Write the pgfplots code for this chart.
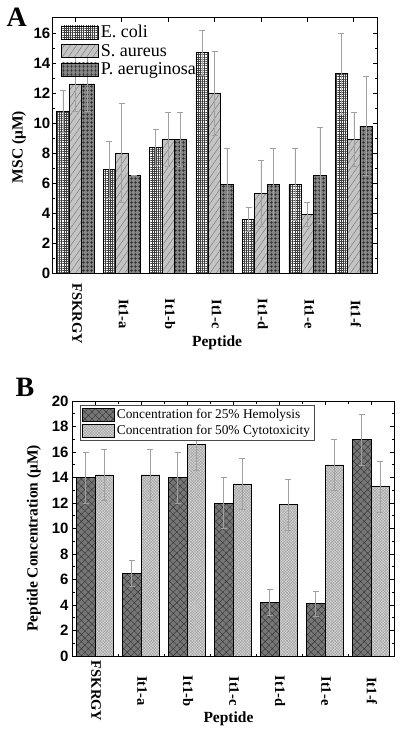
\documentclass[border=0pt]{standalone}
\usepackage{pgfplots}
\pgfplotsset{compat=1.18}
\usepackage{fontspec}
\setmainfont{Liberation Serif}
\setsansfont{Liberation Sans}
\usetikzlibrary{patterns.meta}
\definecolor{lgray}{HTML}{C4C4C4}
\definecolor{dgray}{HTML}{858585}
\definecolor{hgray}{HTML}{767676}
\definecolor{cgray}{HTML}{D8D8D8}
\definecolor{errgray}{HTML}{A0A0A0}

\pgfplotstableread{
x ec ecerr sa saerr pa paerr
0 10.8 1.4 12.6 1.8 12.6 1.8
1 6.9 1.9 8.0 3.3 6.5 0.0
2 8.4 1.2 8.9 1.8 8.9 1.8
3 14.7 1.5 12.0 2.8 5.9 2.4
4 3.6 0.8 5.3 2.2 5.9 2.4
5 5.9 2.4 3.9 0.8 6.5 3.2
6 13.3 2.7 8.9 1.8 9.8 3.3
}\tableA

\pgfplotstableread{
x hem hemerr cyt cyterr
0 14.0 2.0 14.2 2.0
1 6.5 1.0 14.2 2.0
2 14.0 2.0 16.6 2.0
3 12.0 2.0 13.5 2.0
4 4.2 1.0 11.9 2.0
5 4.1 1.0 15.0 2.0
6 17.0 2.0 13.3 2.0
}\tableB

\pgfplotsset{
  barlegA/.style={legend image code/.code={\draw[##1] (0pt,-6.5pt) rectangle (37pt,6.5pt);}},
  barlegB/.style={legend image code/.code={\draw[##1] (0pt,-6.5pt) rectangle (32pt,6.5pt);}},
  common/.style={
    scale only axis,
    ybar=0pt,
    xmin=-0.5, xmax=6.5,
    xtick={0,...,6},
    xticklabels={FSKRGY,It1-a,It1-b,It1-c,It1-d,It1-e,It1-f},
    tick align=inside,
    major tick length=4pt,
    minor tick length=2.5pt,
    axis line style={line width=1pt},
    every tick/.style={black, line width=0.8pt},
    minor y tick num=1,
    ymin=0,
    yticklabel style={font=\sffamily\bfseries\fontsize{15}{15}\selectfont},
    /pgf/number format/assume math mode=true,
    label style={font=\bfseries\fontsize{15.5}{15.5}\selectfont},
    legend cell align=left,
    error bars/y dir=both,
    error bars/y explicit,
    error bars/error bar style={errgray, line width=0.5pt},
    error bars/error mark options={rotate=90, errgray, mark size=3pt, line width=0.5pt},
  }
}

\begin{document}
\begin{tikzpicture}
\useasboundingbox (0pt,0pt) rectangle (400pt,-730pt);

% Panel A
\begin{axis}[common,
  at={(52pt,-273pt)}, anchor=south west,
  width=325pt, height=255pt,
  ymax=17, ytick={0,2,...,16},
  bar width=12.4pt,
  xticklabel style={font=\bfseries\fontsize{14.5}{14.5}\selectfont, xshift=2pt, yshift=-41pt, rotate=-90, anchor=center},
  yticklabel style={inner sep=1.5pt},
  ylabel={MSC (μM)},
  ylabel style={at={(axis description cs:-0.1015,0.494)}, anchor=center},
  xlabel={Peptide},
  xlabel style={at={(axis description cs:0.508,-0.275)}, anchor=center},
  legend style={at={(0.025,0.984)}, anchor=north west, draw=none, fill=none,
    font=\fontsize{18}{18}\selectfont, row sep=1pt, inner sep=1pt,
    /tikz/every even column/.append style={column sep=3pt}},
]
\addplot[draw=black, line width=0.5pt, fill=white,
  postaction={pattern={Hatch[angle=0,distance=2.2pt,line width=0.25pt]}, pattern color=black!75}, barlegA]
  table[x=x, y=ec, y error=ecerr] {\tableA};
\addlegendentry{E. coli}
\addplot[draw=black, line width=0.5pt, fill=lgray,
  postaction={pattern={Lines[angle=55,distance=5pt,line width=0.4pt]}, pattern color=gray!90!black}, barlegA]
  table[x=x, y=sa, y error=saerr] {\tableA};
\addlegendentry{S. aureus}
\addplot[draw=black, line width=0.5pt, fill=dgray,
  postaction={pattern={Hatch[angle=0,distance=4pt,line width=0.45pt]}, pattern color=black!85}, barlegA]
  table[x=x, y=pa, y error=paerr] {\tableA};
\addlegendentry{P. aeruginosa}
\end{axis}
\node[font=\bfseries\fontsize{28}{28}\selectfont, anchor=base west] at (3pt,-27pt) {A};

% Panel B
\begin{axis}[common,
  at={(72pt,-656pt)}, anchor=south west,
  width=322pt, height=255pt,
  ymax=20, ytick={0,2,...,20},
  minor x tick num=1,
  bar width=18.7pt,
  xticklabel style={font=\bfseries\fontsize{14.5}{14.5}\selectfont, xshift=1pt, yshift=-35pt, rotate=-90, anchor=center},
  ylabel={Peptide Concentration (μM)},
  ylabel style={at={(axis description cs:-0.118,0.461)}, anchor=center},
  xlabel={Peptide},
  xlabel style={at={(axis description cs:0.486,-0.247)}, anchor=center},
  legend style={at={(0.025,0.984)}, anchor=north west, draw=black!70, line width=0.6pt, fill=white,
    font=\fontsize{13.4}{13.4}\selectfont, row sep=1pt, inner sep=2pt,
    /tikz/every even column/.append style={column sep=2pt}},
]
\addplot[draw=black, line width=0.5pt, fill=hgray,
  postaction={pattern={Hatch[angle=45,distance=5pt,line width=0.4pt]}, pattern color=black!80}, barlegB]
  table[x=x, y=hem, y error=hemerr] {\tableB};
\addlegendentry{Concentration for 25\% Hemolysis}
\addplot[draw=black, line width=0.5pt, fill=cgray,
  postaction={pattern={Hatch[angle=45,distance=2pt,line width=0.4pt]}, pattern color=gray!75}, barlegB]
  table[x=x, y=cyt, y error=cyterr] {\tableB};
\addlegendentry{Concentration for 50\% Cytotoxicity}
\end{axis}
\node[font=\bfseries\fontsize{28}{28}\selectfont, anchor=base west] at (12pt,-396pt) {B};
\end{tikzpicture}
\end{document}
